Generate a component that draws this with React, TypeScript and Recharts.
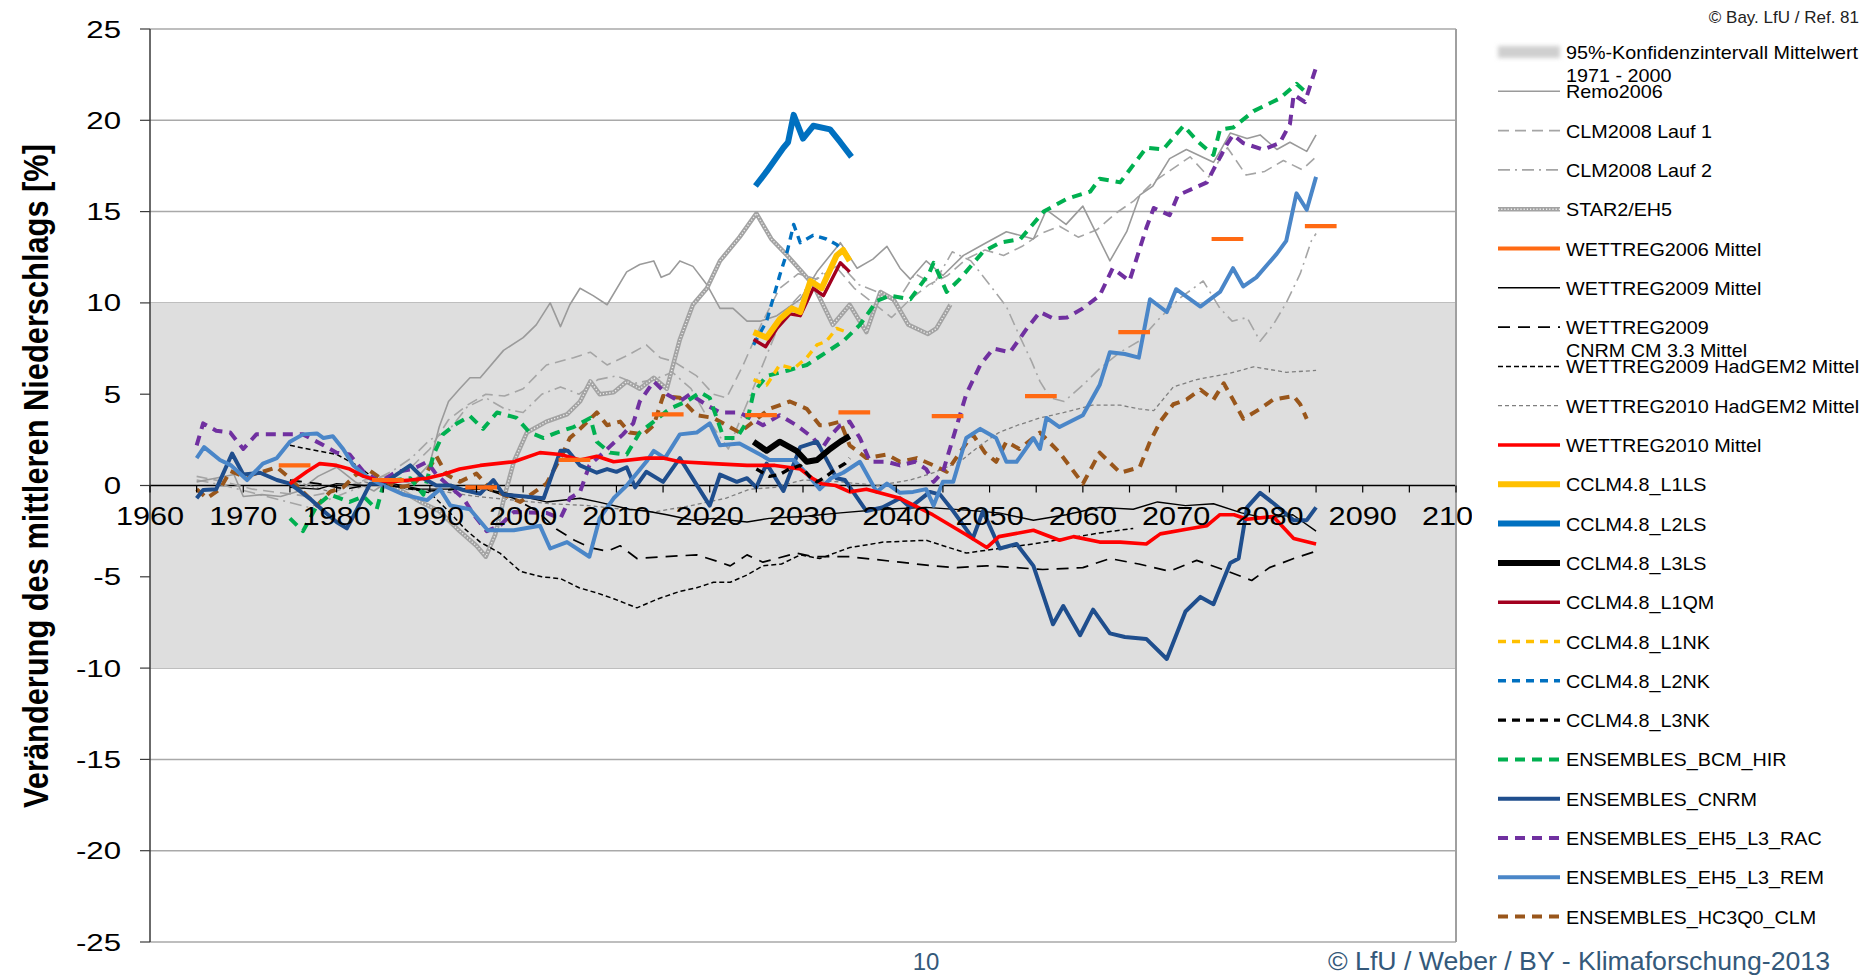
import React from 'react';
import {
  LineChart,
  Line,
  XAxis,
  YAxis,
  CartesianGrid,
  ReferenceArea,
  ReferenceLine,
} from 'recharts';

// plot frame (pixels) and value range
const W = 1876;
const H = 975;
const PLOT_LEFT = 150;
const PLOT_RIGHT = 1456;
const PLOT_TOP = 29;
const PLOT_BOTTOM = 942;
const Y_MIN = -25;
const Y_MAX = 25;
const ZERO_Y = PLOT_TOP + ((PLOT_BOTTOM - PLOT_TOP) * Y_MAX) / (Y_MAX - Y_MIN);
const FONT = '"Liberation Sans", Arial, sans-serif';
const X_AXIS_H = 30;

const xTicks = [
  1960, 1965, 1970, 1975, 1980, 1985, 1990, 1995, 2000, 2005, 2010, 2015, 2020, 2025, 2030,
  2035, 2040, 2045, 2050, 2055, 2060, 2065, 2070, 2075, 2080, 2085, 2090, 2095, 2100,
];
const yTicks = [-25, -20, -15, -10, -5, 0, 5, 10, 15, 20, 25];

// confidence band of the 1971-2000 mean
const confidenceBand = [-10, 10];

// [year, change in %]
const remo2006: [number, number][] = [
  [1965, 0.2], [1967, 0.4], [1969, 0.6], [1970, -0.6], [1972, -0.5], [1974, -0.6], [1976, -0.3],
  [1978, 0.5], [1980, 1.0], [1982, 0.2], [1984, -0.3], [1986, 0.4], [1988, 0.1], [1990, 1.2],
  [1991, 3.2], [1992, 4.6], [1993.2, 5.3], [1994.3, 5.9], [1995.4, 5.9], [1997.9, 7.4], [2000, 8.1],
  [2001.4, 8.8], [2002.9, 10.0], [2004, 8.7], [2005, 9.9], [2006.1, 10.8], [2007.5, 10.4], [2009, 9.9],
  [2011.1, 11.7], [2012.5, 12.1], [2014, 12.3], [2014.8, 11.4], [2015.7, 11.6], [2016.8, 12.3],
  [2018.2, 12.0], [2019.7, 11.0], [2021.1, 9.7], [2022.5, 9.7], [2024, 9.0], [2025.4, 9.0],
  [2027.2, 9.3], [2029.7, 10.2], [2031.5, 11.7], [2034, 13.3], [2035.8, 11.9], [2037.5, 12.4],
  [2039, 13.1], [2040.4, 11.9], [2041.5, 11.3], [2043.2, 12.3], [2045, 11.5], [2047.2, 12.6],
  [2049.3, 13.2], [2051.8, 13.9], [2054.7, 13.5], [2056.1, 15.1], [2058.2, 14.3], [2060, 15.3],
  [2062.9, 12.3], [2064.7, 13.9], [2066.1, 15.9], [2067.5, 16.4], [2069.3, 17.9], [2071.1, 18.4],
  [2074, 17.7], [2074.7, 18.3], [2075.8, 19.3], [2077.6, 19.0], [2079, 19.2], [2080.8, 18.4],
  [2082.2, 18.8], [2084, 18.3], [2085, 19.2],
];

const clm2008Lauf1: [number, number][] = [
  [1965, 0.5], [1968, 0.2], [1971, -0.2], [1974, -0.4], [1977, -0.6], [1980, -0.3], [1983, 0.3],
  [1986, 0.6], [1988, 1.0], [1990, 2.0], [1992, 3.6], [1994, 4.4], [1996, 5.0], [1998, 4.9],
  [2000, 5.3], [2002.5, 6.6], [2005.4, 7.0], [2007.2, 7.3], [2009, 6.6], [2011.1, 7.1], [2013.2, 7.7],
  [2014.7, 7.0], [2016.1, 6.8], [2018.6, 6.0], [2020.4, 5.0], [2021.8, 4.8], [2023.5, 6.5],
  [2025.5, 8.8], [2027.5, 10.8], [2029.5, 11.6], [2031.5, 11.3], [2033.5, 12.0], [2035.5, 10.8],
  [2037.5, 10.0], [2039.5, 9.2], [2041.5, 10.2], [2043.5, 11.0], [2045.5, 11.5], [2047.5, 12.4],
  [2049.5, 12.9], [2051.5, 12.6], [2053.5, 13.1], [2055.5, 13.8], [2057.5, 14.2], [2059.5, 13.6],
  [2061.5, 14.0], [2063.5, 14.9], [2065.5, 15.6], [2067.5, 16.6], [2069.5, 17.3], [2071.5, 18.0],
  [2073.5, 16.9], [2075.5, 18.5], [2077.5, 17.0], [2079.5, 17.2], [2081.5, 17.8], [2083.5, 17.3],
  [2085, 18.0],
];

const clm2008Lauf2: [number, number][] = [
  [1965, 0.3], [1968, 0.0], [1971, -0.4], [1974, -0.8], [1977, -1.2], [1980, -0.6], [1983, 0.0],
  [1986, 0.8], [1988, 1.5], [1990, 2.5], [1992, 3.0], [1994, 4.3], [1996, 4.8], [1998, 4.2],
  [2000, 4.0], [2002, 5.0], [2004, 5.4], [2006, 5.0], [2008, 5.8], [2010, 6.0], [2012, 5.6],
  [2014, 5.8], [2016, 6.2], [2018, 5.3], [2020, 3.5], [2022, 2.0], [2024, 4.5], [2026, 7.0],
  [2028, 9.5], [2030, 10.6], [2032, 11.6], [2034, 12.1], [2036, 11.0], [2038, 10.6], [2040, 10.0],
  [2042, 11.6], [2044, 11.0], [2046, 12.8], [2048, 12.3], [2050, 11.0], [2051.8, 9.8], [2053.2, 8.2],
  [2054.5, 6.8], [2055.4, 5.7], [2056.5, 4.8], [2058, 4.6], [2060, 5.5], [2061.8, 6.4], [2064, 7.3],
  [2066, 7.9], [2068.3, 9.2], [2070.5, 10.3], [2072.9, 11.2], [2074.7, 9.7], [2076, 9.0],
  [2077.6, 9.2], [2079, 7.9], [2080.4, 8.8], [2081.8, 10.0], [2083.3, 11.6], [2084.5, 13.4],
  [2085, 13.8],
];

const star2Eh5: [number, number][] = [
  [1985, 0.3], [1987, -0.3], [1989, -0.9], [1991, -1.4], [1993.2, -2.5], [1995, -3.3], [1996, -3.9],
  [1997, -2.7], [1998, -0.6], [1999, 1.3], [2000.4, 2.9], [2002.5, 3.5], [2004.7, 3.9], [2006.1, 4.6],
  [2007.2, 5.7], [2008.2, 5.0], [2009.7, 5.1], [2011.1, 5.7], [2012.5, 5.3], [2014, 5.9],
  [2015.4, 5.3], [2016.8, 8.0], [2018.2, 9.9], [2019.7, 10.8], [2021.1, 12.3], [2023.2, 13.6],
  [2025, 14.9], [2026.6, 13.5], [2028.3, 12.6], [2029.7, 11.8], [2031.1, 11.0], [2033.2, 8.8],
  [2035, 9.9], [2036.8, 8.4], [2038.3, 10.6], [2039.7, 10.2], [2041.3, 8.8], [2043.4, 8.3],
  [2044.3, 8.6], [2045.8, 9.9],
];

// decade means: [centre year, change in %]
const wettreg2006Decades: [number, number][] = [
  [1975.5, 1.1], [1985.5, 0.3], [1995.5, -0.1], [2005.5, 1.4], [2015.5, 3.9], [2025.5, 3.85],
  [2035.5, 4.0], [2045.5, 3.8], [2055.5, 4.9], [2065.5, 8.4], [2075.5, 13.5], [2085.5, 14.2],
];

const wettreg2009: [number, number][] = [
  [1975, -0.1], [1978, -0.2], [1980, 0.1], [1983, 0.0], [1986, 0.1], [1989, -0.2], [1992, -0.2],
  [1995.4, -0.15], [1999, -0.5], [2002.5, -0.9], [2006.1, -0.7], [2008, -0.9], [2011.4, -1.3],
  [2013.2, -1.4], [2015.4, -1.6], [2018.2, -1.9], [2020.4, -1.8], [2024, -2.0], [2026.4, -1.8],
  [2030, -1.7], [2034, -1.5], [2038.6, -1.3], [2043.2, -1.2], [2047.5, -1.35], [2051, -1.5],
  [2054.7, -1.9], [2058.2, -1.6], [2061.8, -1.2], [2065.4, -1.3], [2068, -0.9], [2071, -1.1],
  [2074, -1.0], [2077, -1.5], [2079.7, -1.8], [2082.5, -1.6], [2085, -2.5],
];

const wettreg2009Cnrm: [number, number][] = [
  [1975, 0.3], [1978, 0.1], [1981, -0.2], [1984, 0.1], [1987, -0.1], [1990, -0.3], [1993, -0.2],
  [1996, -0.2], [1999, -0.7], [2001.5, -1.4], [2003.6, -2.4], [2005.5, -3.0], [2007.2, -3.4],
  [2009, -3.6], [2010.4, -3.3], [2012.2, -4.0], [2015, -3.9], [2018.6, -3.8], [2021.1, -4.2],
  [2022.2, -4.4], [2024, -3.8], [2025.7, -4.2], [2029.3, -3.7], [2031.1, -3.9], [2035, -3.9],
  [2040.4, -4.2], [2044, -4.4], [2046.5, -4.5], [2049.7, -4.4], [2052.9, -4.5], [2055.7, -4.6],
  [2060, -4.5], [2062.9, -4.0], [2066, -4.3], [2069.3, -4.7], [2072.2, -4.1], [2075, -4.6],
  [2078.1, -5.2], [2080, -4.5], [2082.6, -4.0], [2085, -3.6],
];

const wettreg2009HadGem2: [number, number][] = [
  [1975, 2.2], [1977.9, 1.9], [1980, 1.7], [1982.2, 1.1], [1984, 0.4], [1986, 0.0], [1988, -0.2],
  [1990, -0.4], [1992, -1.4], [1993.8, -2.4], [1995.4, -3.1], [1997.5, -3.7], [1999.7, -4.7],
  [2002, -5.0], [2004, -5.1], [2006, -5.6], [2008, -5.9], [2009.7, -6.2], [2012.2, -6.7],
  [2014.5, -6.2], [2016.8, -5.8], [2018.6, -5.6], [2020.4, -5.3], [2022.2, -5.3], [2024, -4.9],
  [2025.7, -4.4], [2027.7, -4.3], [2029.7, -3.8], [2031.8, -4.0], [2035, -3.4], [2038.6, -3.1],
  [2043.2, -3.0], [2047.5, -3.7], [2051, -3.45], [2054.7, -3.2], [2058.2, -2.9], [2061.8, -2.6],
  [2065.4, -2.35],
];

const wettreg2010HadGem2: [number, number][] = [
  [1975, 0.3], [1979, -0.3], [1983, 0.2], [1987, -0.2], [1991, -0.3], [1995, -0.6], [1999, -0.8],
  [2003, -1.0], [2007, -1.1], [2010.7, -1.3], [2014, -1.45], [2018, -1.1], [2021.7, -0.7],
  [2024.3, -0.2], [2027, -0.1], [2030, 0.3], [2034, 0.2], [2038, 0.0], [2041.5, 0.3], [2044, 0.7],
  [2046.8, 1.3], [2049, 2.2], [2051, 2.9], [2053, 3.3], [2055.4, 3.7], [2058, 4.0], [2061, 4.4],
  [2064, 4.4], [2066, 4.2], [2067.6, 4.1], [2069.7, 5.4], [2072.2, 5.8], [2075.8, 6.15],
  [2078.3, 6.5], [2081.8, 6.2], [2085, 6.3],
];

const wettreg2010: [number, number][] = [
  [1975, 0.1], [1976.8, 0.75], [1978.2, 1.2], [1980, 1.1], [1981.4, 0.9], [1982.9, 0.5],
  [1984.3, 0.3], [1985.7, 0.2], [1987.9, 0.3], [1989.7, 0.4], [1991.4, 0.6], [1993.2, 0.9],
  [1995.4, 1.1], [1999, 1.3], [2001.8, 1.8], [2004, 1.7], [2006.1, 1.4], [2007.9, 1.6],
  [2009.7, 1.3], [2013.2, 1.5], [2015, 1.5], [2016.8, 1.3], [2020.4, 1.2], [2024, 1.1],
  [2027, 1.1], [2029.7, 0.9], [2031, 0.4], [2032, 0.1], [2033.5, 0.0], [2035, -0.35],
  [2036.8, -0.2], [2040.4, -0.7], [2043.9, -1.6], [2047.5, -2.7], [2049.7, -3.4], [2051, -2.8],
  [2054.7, -2.45], [2057.5, -3.0], [2059, -2.8], [2061.8, -3.1], [2064, -3.1], [2066.8, -3.2],
  [2068.3, -2.65], [2071.1, -2.4], [2073.3, -2.2], [2074.7, -1.6], [2076.2, -1.6], [2077.6, -1.85],
  [2080.4, -1.7], [2082.6, -2.9], [2085, -3.2],
];

const cclmL1LS: [number, number][] = [
  [2024.7, 8.4], [2026.1, 8.1], [2027.5, 9.1], [2028.8, 9.7], [2029.7, 9.5], [2030.8, 11.2],
  [2032, 10.8], [2033.6, 12.6], [2034.3, 12.9], [2035, 12.3],
];
const cclmL2LS: [number, number][] = [
  [2024.9, 16.4], [2026.1, 17.2], [2027.9, 18.5], [2028.4, 18.8], [2029, 20.3], [2030, 19.0],
  [2031.1, 19.7], [2032.9, 19.5], [2034, 18.8], [2035.2, 18.0],
];
const cclmL3LS: [number, number][] = [
  [2024.7, 2.4], [2026.1, 1.9], [2027.5, 2.4], [2029.3, 1.9], [2030.4, 1.3], [2031.5, 1.4],
  [2032.9, 2.0], [2034, 2.4], [2035, 2.7],
];
const cclmL1QM: [number, number][] = [
  [2024.7, 8.0], [2026, 7.6], [2027.2, 8.6], [2028.6, 9.4], [2029.7, 9.3], [2031.1, 10.8],
  [2032.2, 10.4], [2034, 12.2], [2035, 11.7],
];
const cclmL1NK: [number, number][] = [
  [2024.7, 5.8], [2026.1, 5.5], [2027.5, 6.6], [2029, 6.4], [2030.4, 7.0], [2031.5, 7.7],
  [2032.5, 7.9], [2033.6, 8.6], [2034.7, 8.4],
];
const cclmL2NK: [number, number][] = [
  [2024.7, 7.7], [2026.1, 9.0], [2027.5, 11.5], [2028.3, 12.8], [2029, 14.3], [2029.7, 13.3],
  [2031.1, 13.7], [2032.5, 13.5], [2033.6, 13.2], [2034.7, 12.6], [2035.2, 12.3],
];
const cclmL3NK: [number, number][] = [
  [2025, 0.9], [2026.4, 0.5], [2027.5, 0.6], [2028.5, 0.9], [2029.7, 1.1], [2030.7, 0.5],
  [2031.5, 0.2], [2032.5, 0.5], [2033.5, 0.9], [2034.5, 1.2], [2035, 1.5],
];

const ensBcmHir: [number, number][] = [
  [1975, -1.8], [1976.4, -2.5], [1977.9, -1.1], [1979.3, -0.5], [1981.4, -0.9], [1982.9, -0.6],
  [1984.3, -1.3], [1985, 0.0], [1986.4, 0.3], [1987.9, 0.4], [1989.3, -0.5], [1990.4, 1.7],
  [1991.4, 2.8], [1992.9, 3.4], [1994.3, 3.8], [1995.7, 3.1], [1997.2, 4.0], [1999.3, 3.7],
  [2000.7, 2.9], [2002.2, 2.6], [2003.6, 2.9], [2005.4, 3.2], [2007.2, 3.7], [2007.9, 2.4],
  [2009.3, 1.8], [2011.1, 1.7], [2012.5, 2.9], [2014, 3.5], [2015.7, 4.2], [2017.5, 4.6],
  [2019, 5.1], [2020, 4.8], [2021.5, 2.6], [2022.9, 2.6], [2024, 3.5], [2024.7, 5.1], [2026.1, 6.0],
  [2028.4, 6.3], [2030.4, 6.6], [2032.5, 7.3], [2034.3, 7.9], [2036.1, 8.8], [2037.9, 10.1],
  [2039.3, 10.4], [2041.5, 10.2], [2043.5, 11.6], [2044, 12.2], [2045.4, 10.6], [2046.8, 11.3],
  [2049.3, 12.8], [2051.1, 13.3], [2053.3, 13.5], [2055.8, 15.0], [2058.3, 15.7], [2060.8, 16.1],
  [2061.8, 16.8], [2064, 16.6], [2066.8, 18.5], [2068.6, 18.4], [2070.8, 19.7], [2072.2, 18.9],
  [2074, 18.1], [2074.7, 19.5], [2076.1, 19.6], [2078.3, 20.5], [2081.1, 21.2], [2082.9, 22.0],
  [2084, 21.5],
];

const ensCnrm: [number, number][] = [
  [1965, -0.7], [1965.7, -0.25], [1967.1, -0.2], [1968.8, 1.75], [1970, 0.6], [1971.8, 0.7],
  [1973.6, 0.3], [1975, 0.1], [1977.1, -0.7], [1978.6, -1.4], [1980, -2.0], [1981.1, -2.35],
  [1982.1, -1.4], [1983.6, 0.1], [1985, 0.1], [1987.9, 1.1], [1989.3, 0.4], [1990.7, 0.0],
  [1992.2, 0.0], [1993.6, -0.25], [1995.4, -0.45], [1996.8, 0.3], [1997.9, -0.5], [2002.2, -0.7],
  [2004, 1.9], [2004.8, 1.9], [2006.1, 1.1], [2007.9, 0.7], [2009, 0.9], [2010, 0.75], [2011.1, 1.0],
  [2012, -0.1], [2013.2, 0.75], [2015, 0.2], [2016.8, 1.5], [2020, -1.1], [2021.1, 0.6],
  [2022.9, 0.2], [2024, 0.4], [2025, -0.1], [2026.1, 1.2], [2027.9, -0.3], [2029.7, 2.1],
  [2031.5, 2.4], [2033.6, 0.4], [2034.5, 0.3], [2036.8, -1.4], [2038.5, -1.2], [2040.4, -0.7],
  [2041.5, -1.2], [2043.6, -0.35], [2044.7, -0.5], [2046.1, -1.4], [2048.2, -2.9], [2049.3, -1.4],
  [2051.1, -3.45], [2052.9, -3.2], [2054.7, -4.4], [2056.8, -7.6], [2057.9, -6.6], [2059.7, -8.2],
  [2061.1, -6.8], [2062.9, -8.1], [2064.5, -8.3], [2066.8, -8.4], [2069, -9.5], [2071, -6.9],
  [2072.6, -6.1], [2074, -6.5], [2075.8, -4.25], [2076.7, -4.0], [2077.6, -1.2], [2079, -0.4],
  [2080.5, -1.0], [2082.6, -1.9], [2084, -1.9], [2085, -1.2],
];

const ensEh5Rac: [number, number][] = [
  [1965, 2.2], [1965.7, 3.4], [1967.1, 3.0], [1968.6, 2.9], [1970, 2.0], [1971.4, 2.8],
  [1973.6, 2.8], [1976.4, 2.8], [1978.6, 2.2], [1980, 1.8], [1981.4, 1.7], [1982.9, 0.75],
  [1984.7, 0.2], [1986.4, 0.75], [1988.2, 0.9], [1989.7, 1.3], [1990.7, 0.6], [1992, 0.0],
  [1993.6, -0.7], [1994.7, -1.6], [1996.1, -2.5], [1997.5, -2.2], [1999, -1.45], [2002.5, -1.5],
  [2004, -1.8], [2005, -0.7], [2006.1, -0.35], [2007.1, 1.1], [2008.6, 1.8], [2010.7, 2.8],
  [2011.8, 3.4], [2012.5, 4.6], [2014, 5.7], [2015.4, 5.0], [2016.8, 4.6], [2017.9, 5.0],
  [2019.7, 4.4], [2021.1, 4.0], [2023.2, 4.0], [2025.7, 3.3], [2027.5, 3.85], [2029.3, 3.3],
  [2031.1, 2.6], [2032, 2.0], [2033, 2.76], [2034, 3.3], [2035, 3.5], [2036.1, 2.6], [2037.2, 1.3],
  [2039, 1.3], [2040.4, 1.1], [2042, 1.3], [2043.2, 0.9], [2044, 0.2], [2045, 0.75], [2046.5, 3.3],
  [2047.5, 5.0], [2049, 6.6], [2050.4, 7.5], [2052.2, 7.3], [2054, 8.6], [2055.4, 9.5],
  [2056.8, 9.15], [2058.3, 9.2], [2060, 9.7], [2061.8, 10.4], [2063.2, 11.9], [2065, 11.2],
  [2066.8, 14.1], [2067.6, 15.2], [2069.3, 14.8], [2070.2, 15.9], [2071.1, 16.1], [2073.3, 16.6],
  [2074, 17.3], [2075.4, 18.65], [2076.1, 19.2], [2077.2, 18.75], [2079.3, 18.4], [2081.1, 18.75],
  [2082.2, 19.8], [2082.6, 21.4], [2083.8, 21.0], [2085, 22.9],
];

const ensEh5Rem: [number, number][] = [
  [1965, 1.5], [1965.8, 2.1], [1967.5, 1.4], [1968.7, 1.1], [1970.4, 0.3], [1972.1, 1.2],
  [1973.6, 1.5], [1975, 2.4], [1976.4, 2.8], [1977.9, 2.85], [1978.6, 2.6], [1979.6, 2.7],
  [1980.7, 2.0], [1981.8, 1.1], [1983.2, 0.5], [1985, 0.0], [1987.2, -0.5], [1989.7, -0.8],
  [1991.1, -0.2], [1992.2, -1.1], [1994.3, -1.3], [1996.2, -2.45], [1999, -2.45], [2001.8, -2.2],
  [2002.9, -3.45], [2004.7, -3.1], [2007.1, -3.9], [2008.2, -1.8], [2009.7, -0.7], [2011.1, 0.0],
  [2013.2, 1.3], [2014, 1.9], [2015.2, 1.5], [2016.8, 2.8], [2018.6, 2.9], [2020, 3.4],
  [2021.1, 2.2], [2023.2, 2.3], [2025.4, 1.7], [2026.4, 1.4], [2029, 1.4], [2030.5, 0.6],
  [2031.8, -0.2], [2033, 0.4], [2034.3, 0.7], [2036.1, 1.3], [2037.9, -0.35], [2039, 0.1],
  [2040.4, -0.4], [2041.8, -0.35], [2043.2, -0.2], [2044, -1.1], [2045, 0.2], [2046.1, 0.2],
  [2047.5, 2.6], [2049, 3.1], [2050.7, 2.6], [2051.8, 1.3], [2052.9, 1.3], [2054.7, 2.6],
  [2055.4, 2.0], [2056.1, 3.7], [2057.5, 3.2], [2060, 3.85], [2061.8, 5.5], [2062.9, 7.3],
  [2064.5, 7.2], [2066, 7.0], [2067.2, 10.2], [2069, 9.5], [2070, 10.75], [2072.6, 9.8],
  [2074.7, 10.6], [2076.1, 11.9], [2077.2, 10.9], [2078.6, 11.4], [2080.8, 12.7], [2081.8, 13.4],
  [2082.9, 16.0], [2084, 15.1], [2085, 16.9],
];

const ensHc3q0Clm: [number, number][] = [
  [1965, -0.2], [1966.1, -0.7], [1967.5, -0.2], [1968.6, 0.8], [1970, 0.5], [1971.8, 0.7],
  [1973.6, 1.0], [1975, 0.4], [1976.4, -0.35], [1977.9, -1.1], [1979.3, -0.35], [1980.7, -0.1],
  [1982.1, 0.6], [1983.6, 0.8], [1985, 0.3], [1986.4, -0.1], [1988, 0.0], [1989.7, 0.75],
  [1990.7, 1.6], [1991.8, 0.6], [1993.2, 0.2], [1995, 0.65], [1996.5, -0.2], [1999.7, -0.9],
  [2002.5, 0.1], [2004.3, 1.8], [2005, 2.6], [2006.1, 3.1], [2007.9, 4.0], [2009, 3.3],
  [2010.4, 3.5], [2011.4, 2.9], [2012.9, 2.8], [2014, 3.3], [2015, 4.9], [2016.8, 4.8],
  [2018.6, 3.85], [2020.4, 3.7], [2021.8, 3.3], [2023.2, 2.9], [2024.7, 3.5], [2026.4, 4.2],
  [2028.6, 4.6], [2030.4, 4.2], [2031.8, 3.3], [2032.5, 3.3], [2034, 3.5], [2035, 2.2],
  [2036.8, 1.5], [2039, 1.7], [2040.4, 1.3], [2042.2, 1.5], [2044, 1.1], [2045.4, 0.75],
  [2046.8, 1.8], [2048.2, 2.8], [2049.5, 1.8], [2050.7, 1.3], [2051.8, 2.4], [2053.2, 2.0],
  [2055.4, 2.9], [2057.5, 1.8], [2060, 0.1], [2061.8, 1.8], [2064, 0.7], [2066.1, 1.0],
  [2067.2, 2.4], [2068.3, 3.5], [2069.7, 4.45], [2071.1, 4.7], [2072.6, 5.25], [2074, 4.7],
  [2075.1, 5.6], [2076.1, 4.7], [2077.2, 3.65], [2079, 4.2], [2080.4, 4.7], [2082.6, 4.9],
  [2083.3, 4.45], [2084, 3.65],
];

type Row = { year: number; v: number | null };
const toRows = (pts: [number, number][]): Row[] => pts.map(([year, v]) => ({ year, v }));

// decade means are drawn as short flat dashes around their centre year
const SEG_HALF = 1.7;
const decadeSegments = (pts: [number, number][]): Row[] =>
  pts.flatMap(([c, v]) => [
    { year: c - SEG_HALF, v },
    { year: c + SEG_HALF, v },
    { year: c + SEG_HALF + 0.05, v: null },
  ]);

type Series = {
  key: string;
  name: string;
  data: Row[];
  stroke: string;
  width: number;
  dash?: string;
  textured?: boolean;
};

// legend order
const SERIES: Series[] = [
  { key: 'remo', name: 'Remo2006', data: toRows(remo2006), stroke: '#9a9a9a', width: 1.6 },
  { key: 'lauf1', name: 'CLM2008 Lauf 1', data: toRows(clm2008Lauf1), stroke: '#a5a5a5', width: 1.6, dash: '11 6' },
  { key: 'lauf2', name: 'CLM2008 Lauf 2', data: toRows(clm2008Lauf2), stroke: '#a5a5a5', width: 1.6, dash: '12 5 2 5' },
  { key: 'star', name: 'STAR2/EH5', data: toRows(star2Eh5), stroke: '#a3a3a3', width: 4.5, textured: true },
  { key: 'w2006', name: 'WETTREG2006 Mittel', data: decadeSegments(wettreg2006Decades), stroke: '#ff6a13', width: 4.2 },
  { key: 'w2009', name: 'WETTREG2009 Mittel', data: toRows(wettreg2009), stroke: '#000000', width: 1.4 },
  { key: 'w2009c', name: 'WETTREG2009\nCNRM CM 3.3 Mittel', data: toRows(wettreg2009Cnrm), stroke: '#000000', width: 1.7, dash: '12 8' },
  { key: 'w2009h', name: 'WETTREG2009 HadGEM2 Mittel', data: toRows(wettreg2009HadGem2), stroke: '#000000', width: 1.5, dash: '5 3' },
  { key: 'w2010h', name: 'WETTREG2010 HadGEM2 Mittel', data: toRows(wettreg2010HadGem2), stroke: '#7f7f7f', width: 1.3, dash: '4 3' },
  { key: 'w2010', name: 'WETTREG2010 Mittel', data: toRows(wettreg2010), stroke: '#ff0000', width: 3.6 },
  { key: 'l1ls', name: 'CCLM4.8_L1LS', data: toRows(cclmL1LS), stroke: '#ffc000', width: 6 },
  { key: 'l2ls', name: 'CCLM4.8_L2LS', data: toRows(cclmL2LS), stroke: '#0070c0', width: 6 },
  { key: 'l3ls', name: 'CCLM4.8_L3LS', data: toRows(cclmL3LS), stroke: '#000000', width: 6 },
  { key: 'l1qm', name: 'CCLM4.8_L1QM', data: toRows(cclmL1QM), stroke: '#a2001e', width: 3.4 },
  { key: 'l1nk', name: 'CCLM4.8_L1NK', data: toRows(cclmL1NK), stroke: '#ffc000', width: 3.4, dash: '8 6' },
  { key: 'l2nk', name: 'CCLM4.8_L2NK', data: toRows(cclmL2NK), stroke: '#0070c0', width: 3.4, dash: '8 6' },
  { key: 'l3nk', name: 'CCLM4.8_L3NK', data: toRows(cclmL3NK), stroke: '#000000', width: 3.4, dash: '8 6' },
  { key: 'bcm', name: 'ENSEMBLES_BCM_HIR', data: toRows(ensBcmHir), stroke: '#00b050', width: 4, dash: '10 7' },
  { key: 'cnrm', name: 'ENSEMBLES_CNRM', data: toRows(ensCnrm), stroke: '#1f4e8d', width: 4 },
  { key: 'rac', name: 'ENSEMBLES_EH5_L3_RAC', data: toRows(ensEh5Rac), stroke: '#7030a0', width: 4, dash: '10 7' },
  { key: 'rem', name: 'ENSEMBLES_EH5_L3_REM', data: toRows(ensEh5Rem), stroke: '#4a86c8', width: 4 },
  { key: 'hc3', name: 'ENSEMBLES_HC3Q0_CLM', data: toRows(ensHc3q0Clm), stroke: '#99561b', width: 4, dash: '10 7' },
];

// back to front
const DRAW_ORDER = [
  'w2010h', 'lauf2', 'lauf1', 'remo', 'star', 'w2009h', 'w2009c', 'w2009',
  'hc3', 'rac', 'bcm', 'cnrm', 'rem', 'w2010',
  'l3nk', 'l1nk', 'l2nk', 'l1qm', 'l1ls', 'l3ls', 'l2ls', 'w2006',
];

// x axis crosses at y = 0, so ticks and labels are placed on that line
const XTick = (props: any) => {
  const { x, payload } = props;
  const v = payload.value as number;
  return (
    <g>
      <line x1={x} x2={x} y1={ZERO_Y} y2={ZERO_Y + 7} stroke="#000" strokeWidth={1.2} />
      {v % 10 === 0 && (
        <text
          transform={`translate(${x},${ZERO_Y + 39}) scale(1.18,1)`}
          textAnchor="middle"
          fontSize={26}
          fontFamily={FONT}
          fill="#000"
        >
          {v}
        </text>
      )}
    </g>
  );
};

const YTick = (props: any) => {
  const { y, payload } = props;
  return (
    <text
      transform={`translate(${PLOT_LEFT - 29},${y + 8.5}) scale(1.3,1)`}
      textAnchor="end"
      fontSize={24}
      fontFamily={FONT}
      fill="#000"
    >
      {payload.value}
    </text>
  );
};

const LEG_LEFT = PLOT_RIGHT + 16;
const LEG_X0 = 26;
const LEG_X1 = 88;
const LEG_TEXT = 94;
const LEG_TOP = 52;
const LEG_STEP = 39.3;

const LegendLabel = ({ y, text }: { y: number; text: string }) => (
  <>
    {text.split('\n').map((t, i) => (
      <text
        key={i}
        transform={`translate(${LEG_TEXT},${y + 7 + i * 23}) scale(1.04,1)`}
        fontSize={19}
        fontFamily={FONT}
        fill="#000"
      >
        {t}
      </text>
    ))}
  </>
);

const ChartLegend = () => (
  <svg
    width={W - LEG_LEFT}
    height={H}
    style={{ position: 'absolute', left: LEG_LEFT, top: 0, background: '#fff' }}
  >
    <defs>
      <filter id="bandBlur" x="-20%" y="-100%" width="140%" height="300%">
        <feGaussianBlur stdDeviation="2" />
      </filter>
    </defs>
    <rect x={LEG_X0} y={LEG_TOP - 6} width={LEG_X1 - LEG_X0} height={12} fill="#cfcfcf" filter="url(#bandBlur)" />
    <LegendLabel y={LEG_TOP} text={'95%-Konfidenzintervall Mittelwert\n1971 - 2000'} />
    {SERIES.map((s, i) => {
      const y = LEG_TOP + LEG_STEP * (i + 1);
      return (
        <g key={s.key}>
          <line x1={LEG_X0} x2={LEG_X1} y1={y} y2={y} stroke={s.stroke} strokeWidth={s.width} strokeDasharray={s.dash} />
          {s.textured && (
            <line x1={LEG_X0} x2={LEG_X1} y1={y} y2={y} stroke="#eeeeee" strokeWidth={1.4} strokeDasharray="1.2 2" />
          )}
          <LegendLabel y={y} text={s.name} />
        </g>
      );
    })}
    <text x={W - LEG_LEFT - 17} y={23} textAnchor="end" fontSize={17} fontFamily={FONT} fill="#222">
      © Bay. LfU / Ref. 81
    </text>
  </svg>
);

export default function App() {
  const byKey: Record<string, Series> = Object.fromEntries(SERIES.map((s) => [s.key, s]));
  return (
    <div style={{ position: 'absolute', left: 0, top: 0, width: W, height: H, background: '#fff', fontFamily: FONT }}>
      <LineChart
        width={W}
        height={H}
        margin={{
          top: PLOT_TOP,
          right: W - PLOT_RIGHT,
          bottom: H - PLOT_BOTTOM - X_AXIS_H,
          left: PLOT_LEFT - 80,
        }}
      >
        <CartesianGrid vertical={false} stroke="#a9a9a9" strokeWidth={1.5} />
        <ReferenceArea
          y1={confidenceBand[0]}
          y2={confidenceBand[1]}
          fill="#dedede"
          fillOpacity={1}
          stroke="none"
        />
        <XAxis
          type="number"
          dataKey="year"
          domain={[1960, 2100]}
          ticks={xTicks}
          interval={0}
          height={X_AXIS_H}
          axisLine={false}
          tickLine={false}
          tick={<XTick />}
        />
        <YAxis
          type="number"
          domain={[Y_MIN, Y_MAX]}
          ticks={yTicks}
          interval={0}
          width={80}
          axisLine={{ stroke: '#3a3a3a', strokeWidth: 1.5 }}
          tickLine={{ stroke: '#3a3a3a', strokeWidth: 1.2 }}
          tickSize={10}
          tick={<YTick />}
        />
        <ReferenceLine y={0} stroke="#000" strokeWidth={1.3} />
        <ReferenceLine x={2100} stroke="#a0a0a0" strokeWidth={2} />
        {DRAW_ORDER.map((k) => {
          const s = byKey[k];
          return [
            <Line
              key={k}
              data={s.data}
              dataKey="v"
              name={s.name}
              type="linear"
              stroke={s.stroke}
              strokeWidth={s.width}
              strokeDasharray={s.dash}
              strokeLinejoin="round"
              dot={false}
              activeDot={false}
              isAnimationActive={false}
            />,
            s.textured ? (
              <Line
                key={k + '-tex'}
                data={s.data}
                dataKey="v"
                legendType="none"
                type="linear"
                stroke="#eeeeee"
                strokeWidth={1.4}
                strokeDasharray="1.2 2"
                dot={false}
                activeDot={false}
                isAnimationActive={false}
              />
            ) : null,
          ];
        })}
      </LineChart>
      <ChartLegend />
      <svg
        width={W}
        height={H}
        style={{ position: 'absolute', left: 0, top: 0, pointerEvents: 'none' }}
      >
        <text
          transform={`translate(36,476) scale(1.15,1) rotate(-90)`}
          textAnchor="middle"
          dominantBaseline="central"
          fontSize={31}
          fontWeight="bold"
          fontFamily={FONT}
          textLength={664}
          lengthAdjust="spacingAndGlyphs"
          fill="#000"
        >
          Veränderung des mittleren Niederschlags [%]
        </text>
        <text x={926} y={970} textAnchor="middle" fontSize={24} fontFamily={FONT} fill="#34597a">
          10
        </text>
        <text
          x={1328}
          y={970}
          fontSize={25}
          fontFamily={FONT}
          fill="#34597a"
          textLength={502}
          lengthAdjust="spacingAndGlyphs"
        >
          © LfU / Weber / BY - Klimaforschung-2013
        </text>
      </svg>
    </div>
  );
}
